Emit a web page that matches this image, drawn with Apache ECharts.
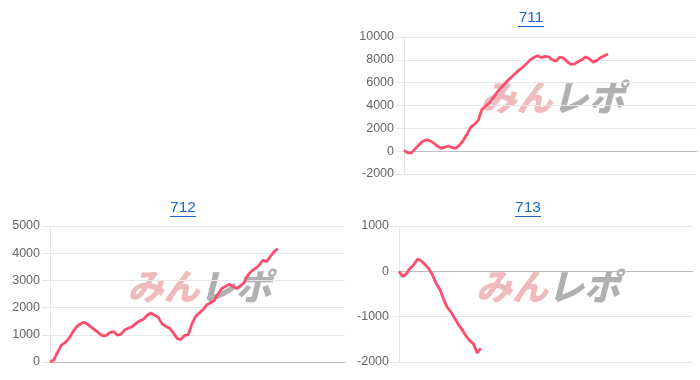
<!DOCTYPE html>
<html>
<head>
<meta charset="utf-8">
<script src="https://cdn.jsdelivr.net/npm/echarts@6/dist/echarts.min.js"></script>
<style>
html,body{margin:0;padding:0;background:#fff;}
#c{width:700px;height:380px;}
</style>
</head>
<body>
<div id="c"></div>
<script>
// ---- data ----
const xCount = 80;
const categories = Array.from({length: xCount}, (_, i) => String(i + 1));

const titles = ['711', '712', '713'];

const values711 = [100, -150, -150, 200, 550, 850, 1000, 900, 700, 450,
  250, 350, 450, 300, 250, 550, 950, 1500, 2100, 2350,
  2700, 3650, 3950, 4200, 4650, 5100, 5500, 5850, 6200, 6500,
  6800, 7100, 7350, 7650, 8000, 8200, 8350, 8200, 8300, 8250,
  8000, 7900, 8250, 8150, 7850, 7600, 7650, 7850, 8000, 8250,
  8100, 7800, 7950, 8200, 8350, 8500];

const values712 = [0, 70, 350, 610, 710, 850, 1080, 1280, 1390, 1460,
  1400, 1280, 1180, 1070, 970, 970, 1080, 1120, 990, 1020,
  1180, 1240, 1300, 1420, 1510, 1570, 1720, 1800, 1720, 1640,
  1400, 1310, 1240, 1080, 870, 820, 980, 1000, 1400, 1680,
  1800, 1930, 2100, 2180, 2260, 2500, 2700, 2780, 2860, 2780,
  2700, 2800, 2920, 3200, 3340, 3440, 3560, 3740, 3690, 3880,
  4050, 4170];

const values713 = [0, -120, -50, 70, 150, 270, 230, 150, 60, -80,
  -270, -400, -620, -800, -900, -1040, -1180, -1290, -1430, -1530,
  -1600, -1800, -1700];

const yTicks711 = {min: -2000, max: 10000, interval: 2000};
const yTicks712 = {min: 0, max: 5000, interval: 1000};
const yTicks713 = {min: -2000, max: 1000, interval: 1000};

// ---- layout ----
const W = 700, H = 380;
const panels = [
  {title: titles[0], values: values711, ticks: yTicks711, left: 404, right: 3, top: 37, bottom: 206, titleX: 531, titleY: 18},
  {title: titles[1], values: values712, ticks: yTicks712, left: 50, right: 355, top: 226, bottom: 18, titleX: 183, titleY: 208},
  {title: titles[2], values: values713, ticks: yTicks713, left: 399, right: 7, top: 226, bottom: 18, titleX: 528, titleY: 208}
];

const font = 'Liberation Sans, Helvetica, Arial, sans-serif';
const lineColor = '#ff4d6d';
const gridColor = '#e6e6e6';
const zeroColor = '#bdbdbd';
const linkColor = '#1b67c9';

const grids = [], xAxes = [], yAxes = [], series = [], graphics = [];
panels.forEach((p, i) => {
  grids.push({left: p.left, right: p.right, top: p.top, bottom: p.bottom, containLabel: false});
  xAxes.push({
    type: 'category', gridIndex: i, data: categories, boundaryGap: false,
    axisLabel: {show: false}, axisTick: {show: false},
    axisLine: {show: true, onZero: true, lineStyle: {color: zeroColor, width: 1}},
    splitLine: {show: false}
  });
  yAxes.push({
    type: 'value', gridIndex: i, min: p.ticks.min, max: p.ticks.max, interval: p.ticks.interval,
    axisLabel: {color: '#666', fontSize: 12.5, fontFamily: font, margin: 10, formatter: v => String(v)},
    axisTick: {show: true, length: 8, lineStyle: {color: gridColor}},
    axisLine: {show: true, lineStyle: {color: gridColor}},
    splitLine: {show: true, lineStyle: {color: gridColor, width: 1}}
  });
  series.push({
    type: 'line', xAxisIndex: i, yAxisIndex: i, data: p.values,
    showSymbol: false, symbol: 'none', smooth: false,
    lineStyle: {color: lineColor, width: 2.8}, z: 3, animation: false
  });
  // title text + underline
  graphics.push({
    type: 'text', x: p.titleX, y: p.titleY, z: 10,
    style: {text: p.title, textAlign: 'center', textVerticalAlign: 'middle', fill: linkColor, font: '15.5px ' + font}
  });
  graphics.push({
    type: 'line', z: 10,
    shape: {x1: p.titleX - 13, y1: p.titleY + 8.5, x2: p.titleX + 13, y2: p.titleY + 8.5},
    style: {stroke: linkColor, lineWidth: 1}
  });
  // watermark
  const gw = W - p.left - p.right, gh = H - p.top - p.bottom;
  const cx = p.left + gw / 2, cy = p.top + gh / 2 - 8;
  graphics.push({
    type: 'group', x: cx, y: cy, z: 1, silent: true,
    children: [
      {type: 'text', style: {text: 'みん', x: 2, y: 0, textAlign: 'right', textVerticalAlign: 'middle',
        fill: 'rgba(215,90,95,0.42)', font: 'italic 900 36px "Noto Sans CJK JP", sans-serif'}},
      {type: 'text', style: {text: 'レポ', x: 2, y: 0, textAlign: 'left', textVerticalAlign: 'middle',
        fill: 'rgba(150,150,150,0.75)', font: 'italic 900 36px "Noto Sans CJK JP", sans-serif'}}
    ]
  });
});

const chart = echarts.init(document.getElementById('c'), null, {renderer: 'canvas'});
chart.setOption({
  animation: false,
  backgroundColor: '#fff',
  grid: grids,
  xAxis: xAxes,
  yAxis: yAxes,
  series: series,
  graphic: graphics
});
</script>
</body>
</html>
